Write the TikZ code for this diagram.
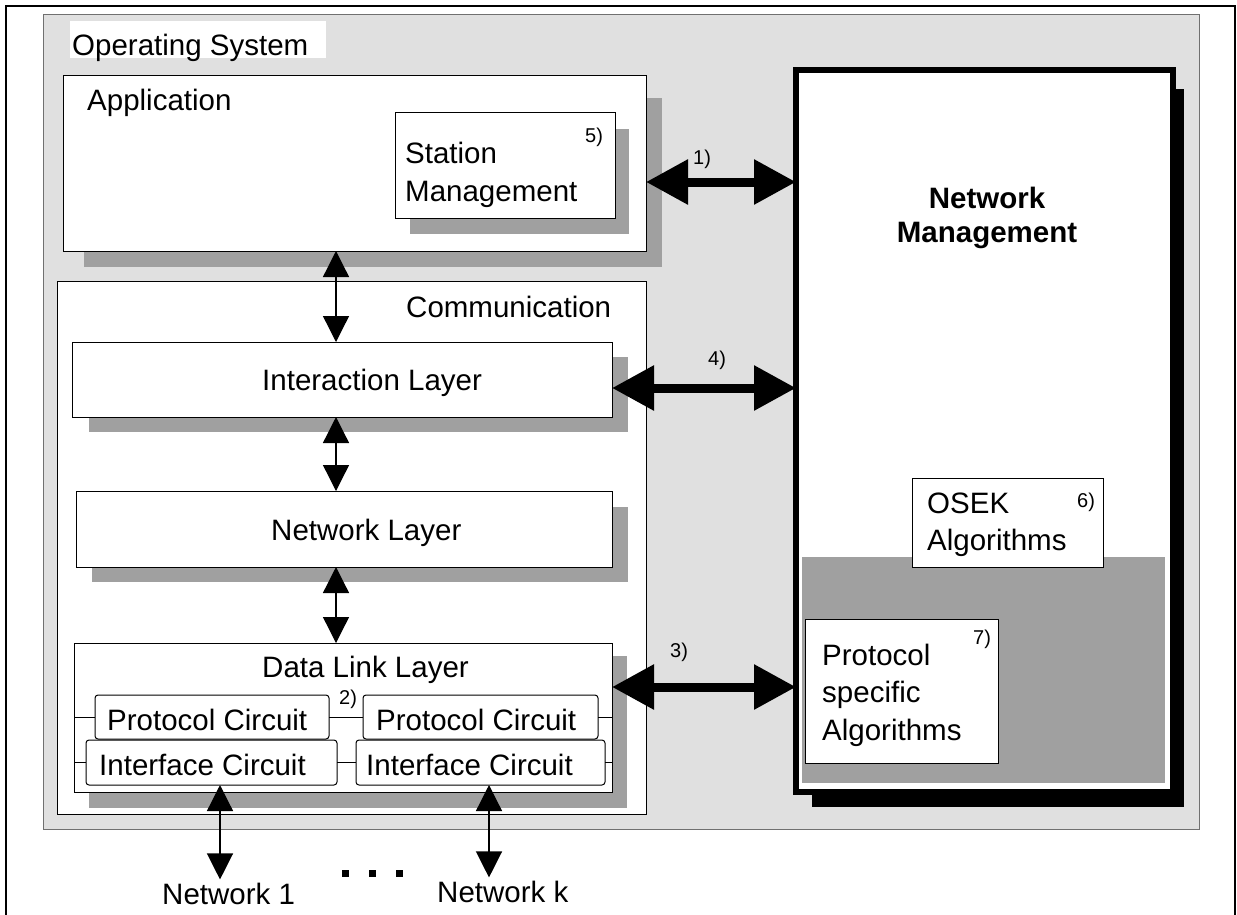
\documentclass[tikz,border=0pt]{standalone}
\usepackage{fontspec}
\setmainfont{Liberation Sans}
\usetikzlibrary{arrows.meta}
\definecolor{osgray}{HTML}{E0E0E0}
\definecolor{shgray}{HTML}{A0A0A0}
\definecolor{osline}{HTML}{707070}
\begin{document}
\begin{tikzpicture}[x=1pt,y=-1pt,
  box/.style={draw=black, line width=1pt, fill=white, inner sep=0pt, outer sep=0pt, anchor=north west},
  rbox/.style={box, rounded corners=3pt},
  shadowbox/.style={fill=shgray, draw=none, inner sep=0pt, outer sep=0pt, anchor=north west},
  lbl/.style={anchor=base west, inner sep=0pt, font=\fontsize{29.5}{34}\selectfont},
  blbl/.style={anchor=base, inner sep=0pt, font=\fontsize{29.5}{34}\selectfont\bfseries},
  num/.style={anchor=base west, inner sep=0pt, font=\fontsize{20}{24}\selectfont},
  bigarrow/.style={line width=9pt, {Triangle[length=42pt,width=43pt]}-{Triangle[length=42pt,width=43pt]}},
  smallarrow/.style={line width=1.3pt, {Triangle[length=26pt,width=26pt]}-{Triangle[length=26pt,width=26pt]}},
  dot/.style={fill=black, draw=none, minimum size=7pt, inner sep=0pt}
]
\useasboundingbox (0,0) rectangle (1237,914);
\fill[white] (0,0) rectangle (1237,914);
% outer frame
\draw[line width=2pt] (6,920) -- (6,6) -- (1235,6) -- (1235,920);
% operating system
\node[box, fill=osgray, draw=osline, minimum width=1156pt, minimum height=815pt] (os) at (43,14) {};
\node[shadowbox, fill=white, minimum width=256pt, minimum height=37pt] (oslabel) at (70,21) {};
\node[lbl] (ostext) at (72,55) {Operating System};
% application
\node[shadowbox, minimum width=578pt, minimum height=169pt] (appsh) at (84,98) {};
\node[box, minimum width=583pt, minimum height=176pt] (app) at (63,75) {};
\node[lbl] (apptext) at (87,110) {Application};
\node[shadowbox, minimum width=219pt, minimum height=105pt] (smsh) at (410,129) {};
\node[box, minimum width=220pt, minimum height=106pt] (sm) at (395,112) {};
\node[lbl] (smt1) at (405,163) {Station};
\node[lbl] (smt2) at (405,201) {Management};
\node[num] (n5) at (585,142) {5)};
% communication
\node[box, minimum width=589pt, minimum height=533pt] (comm) at (57,281) {};
\node[lbl] (commtext) at (406,317) {Communication};
\node[shadowbox, minimum width=539pt, minimum height=75pt] (ilsh) at (89,357) {};
\node[box, minimum width=540pt, minimum height=75pt] (il) at (72,342) {};
\node[lbl] (iltext) at (262,390) {Interaction Layer};
\node[shadowbox, minimum width=536pt, minimum height=75pt] (nlsh) at (92,507) {};
\node[box, minimum width=536pt, minimum height=76pt] (nl) at (76,491) {};
\node[lbl] (nltext) at (271,540) {Network Layer};
\node[shadowbox, minimum width=538pt, minimum height=152pt] (dllsh) at (89,656) {};
\node[box, minimum width=538pt, minimum height=149pt] (dll) at (74,643) {};
\node[lbl] (dlltext) at (262,677) {Data Link Layer};
\node[rbox, minimum width=234pt, minimum height=44pt] (pc1) at (95,695) {};
\node[rbox, minimum width=235pt, minimum height=44pt] (pc2) at (363,695) {};
\node[rbox, minimum width=251pt, minimum height=45pt] (ic1) at (86,740) {};
\node[rbox, minimum width=249pt, minimum height=45pt] (ic2) at (356,740) {};
\node[lbl] (pc1t) at (107,730) {Protocol Circuit};
\node[lbl] (pc2t) at (376,730) {Protocol Circuit};
\node[lbl] (ic1t) at (99,775) {Interface Circuit};
\node[lbl] (ic2t) at (366,775) {Interface Circuit};
\node[num] (n2) at (339,704) {2)};
\draw[line width=1pt] (dll.west |- pc1.west) -- (pc1.west);
\draw[line width=1pt] (pc1.east) -- (pc2.west);
\draw[line width=1pt] (pc2.east) -- (dll.east |- pc2.east);
\draw[line width=1pt] (dll.west |- ic1.west) -- (ic1.west);
\draw[line width=1pt] (ic1.east) -- (ic2.west);
\draw[line width=1pt] (ic2.east) -- (dll.east |- ic2.east);
% network management
\node[shadowbox, fill=black, minimum width=372pt, minimum height=718pt] (nmsh) at (812,89) {};
\node[box, line width=6pt, minimum width=377pt, minimum height=722pt] (nm) at (796,70) {};
\node[blbl] (nmt1) at (987,208) {Network};
\node[blbl] (nmt2) at (987,242) {Management};
\node[shadowbox, minimum width=363pt, minimum height=226pt] (nmgray) at (802,557) {};
\node[box, minimum width=191pt, minimum height=89pt] (osek) at (912,478) {};
\node[lbl] (osekt1) at (927,513) {OSEK};
\node[lbl] (osekt2) at (927,550) {Algorithms};
\node[num] (n6) at (1077,507) {6)};
\node[box, minimum width=193pt, minimum height=144pt] (psa) at (805,619) {};
\node[lbl] (psat1) at (822,665) {Protocol};
\node[lbl] (psat2) at (822,702) {specific};
\node[lbl] (psat3) at (822,740) {Algorithms};
\node[num] (n7) at (973,644) {7)};
% interface arrows
\coordinate (r1) at (0,182);
\coordinate (r4) at (0,388);
\coordinate (r3) at (0,687);
\draw[bigarrow] (app.east |- r1) -- (nm.west |- r1);
\draw[bigarrow] (il.east |- r4) -- (nm.west |- r4);
\draw[bigarrow] (dll.east |- r3) -- (nm.west |- r3);
\node[num] (n1) at (693,164) {1)};
\node[num] (n4) at (708,365) {4)};
\node[num] (n3) at (670,657) {3)};
% vertical arrows
\coordinate (cx) at (336,0);
\draw[smallarrow] (app.south -| cx) -- (il.north -| cx);
\draw[smallarrow] (il.south -| cx) -- (nl.north -| cx);
\draw[smallarrow] (nl.south -| cx) -- (dll.north -| cx);
% networks
\node[lbl, inner ysep=3pt] (net1) at (162,904) {Network 1};
\node[lbl, inner ysep=3pt] (netk) at (437,902) {Network k};
\coordinate (x1) at (220,0);
\coordinate (xk) at (489,0);
\draw[smallarrow] (ic1.south -| x1) -- (net1.north -| x1);
\draw[smallarrow] (ic2.south -| xk) -- (netk.north -| xk);
\node[dot] (d1) at (345,873) {};
\node[dot] (d2) at (372,873) {};
\node[dot] (d3) at (399,873) {};
\end{tikzpicture}
\end{document}
